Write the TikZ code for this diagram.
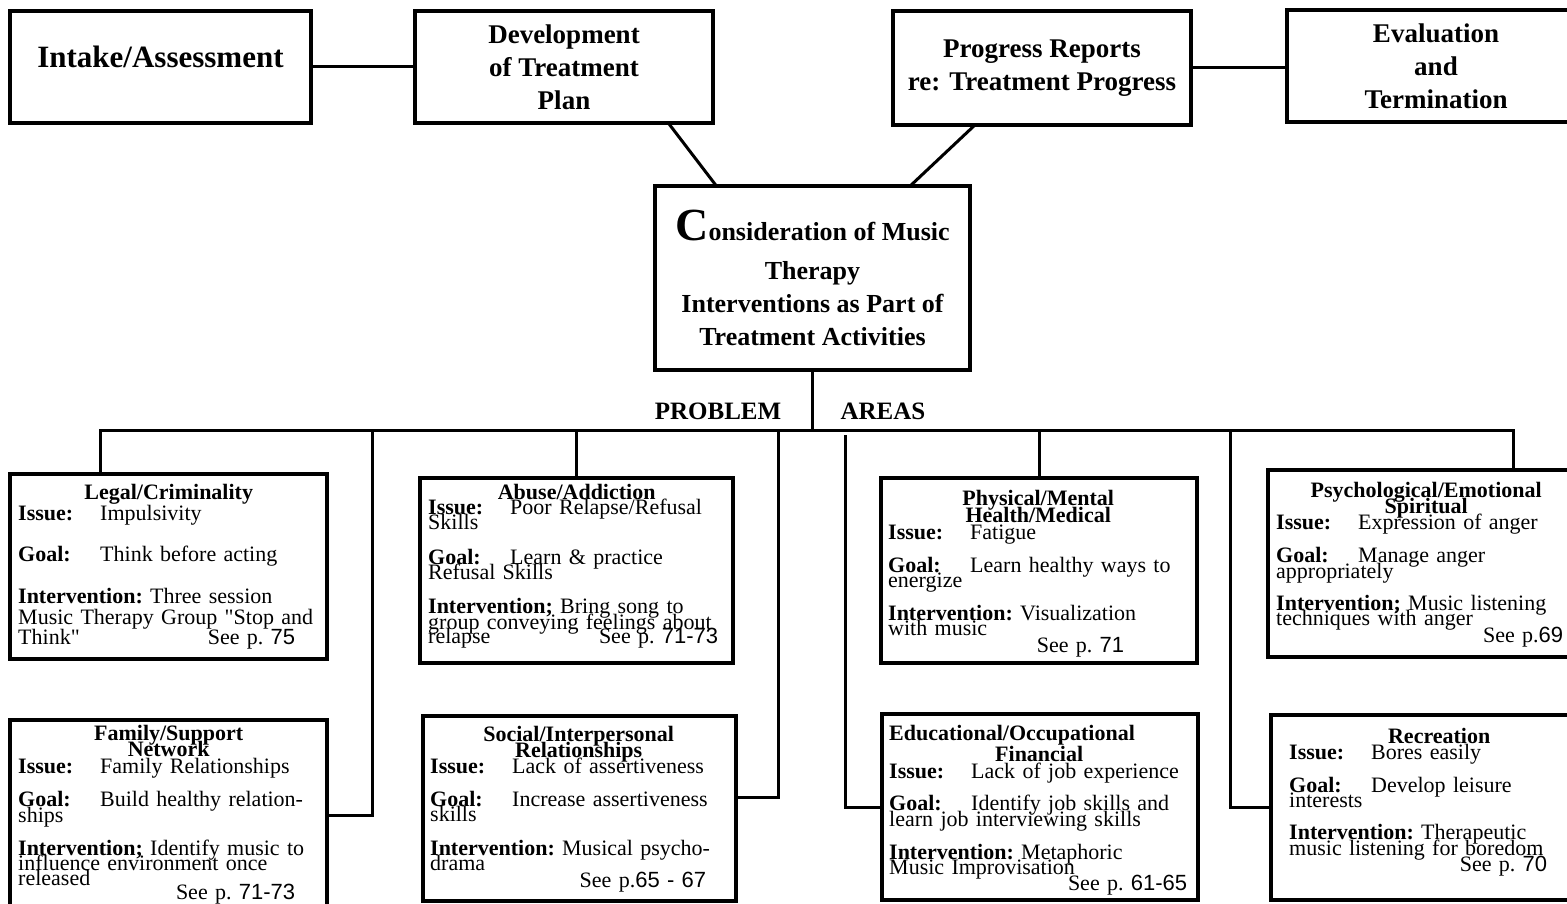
\documentclass[tikz,border=0pt]{standalone}
\usepackage{fontspec}
\setmainfont{Liberation Serif}
\newfontfamily\handfont{Liberation Sans}
\usetikzlibrary{calc,positioning}
\newcommand{\areafont}{\fontsize{22}{16}\selectfont\frenchspacing\lineskiplimit=-100pt\lineskip=0pt\relax}
\newcommand{\lbl}[1]{\makebox[82pt][l]{\bfseries #1}}
\newcommand{\atitle}[1]{\rule{0pt}{16pt}\hspace*{\fill}\textbf{#1}\hspace*{\fill}\null}
\newcommand{\ctitle}[1]{\hspace*{\fill}\textbf{#1}\hspace*{\fill}\null}
\newcommand{\seep}[2]{\hspace*{\fill}#1\hspace*{#2}\null}
\newcommand{\hw}[1]{{\handfont #1}}
\tikzset{
  stage/.style={draw, line width=3.5pt, outer sep=0pt, inner sep=0pt, align=center,
    font=\bfseries\fontsize{27}{33}\selectfont},
  area/.style={draw, line width=3.5pt, outer sep=0pt, inner sep=0pt, anchor=north west,
    minimum width=316pt, minimum height=185pt},
  areatext/.style={anchor=north west, inner sep=0pt, align=left, text width=300pt, font=\areafont},
  link/.style={line width=3pt},
  heading/.style={font=\bfseries\fontsize{25}{25}\selectfont, inner sep=0pt},
}
\begin{document}
\begin{tikzpicture}[x=1pt, y=-1pt]
\useasboundingbox (0,0) rectangle (1567,904);
% ---------- stages of treatment ----------
\node[stage, minimum width=301pt, minimum height=112pt, font=\bfseries\fontsize{31}{33}\selectfont]
  (intake) at (160.5,67) {Intake/Assessment\\[-12pt]\mbox{}};
\node[stage, minimum width=298pt, minimum height=112pt] (devplan) at (564,67) {Development\\of Treatment\\Plan};
\node[stage, minimum width=298pt, minimum height=114pt] (progress) at (1042,68) {Progress Reports\\re: Treatment Progress};
\node[stage, minimum width=298pt, minimum height=112pt] (evaluation) at (1436,66) {Evaluation\\and\\Termination};
\node[stage, minimum width=315pt, minimum height=184pt, font=\bfseries\fontsize{26}{33}\selectfont]
  (consider) at (812.5,278) {{\fontsize{46}{33}\selectfont C}onsideration of Music\\[6pt]Therapy\\Interventions as Part of\\Treatment Activities};
\draw[link] (intake) -- (devplan);
\draw[link] (progress.east) -- (progress.east -| evaluation.west);
\draw[link] ($(devplan.south west)!.85!(devplan.south east)$) -- ($(consider.north west)!.195!(consider.north east)$);
\draw[link] ($(progress.south west)!.275!(progress.south east)$) -- ($(consider.north west)!.81!(consider.north east)$);
% ---------- problem areas ----------
\node[heading] (problem) at (718,411) {PROBLEM};
\node[heading] (areas) at (883,411) {AREAS};
\node[area, minimum width=317pt] (legal) at (10,474) {};
\node[area, minimum width=313pt] (abuse) at (420,478) {};
\node[area] (physical) at (881,478) {};
\node[area, minimum height=187pt] (psych) at (1268,470) {};
\node[area, minimum width=317pt, minimum height=190pt] (family) at (10,720) {};
\node[area, minimum width=313pt] (social) at (423,716) {};
\node[area, minimum height=186pt] (educ) at (882,714) {};
\node[area] (recr) at (1271,715) {};
\coordinate (busL) at (100,430);
\coordinate (busR) at (1513,430);
\coordinate (famdrop) at (372,430);
\coordinate (socdrop) at (778,430);
\coordinate (edudrop) at (845,435);
\coordinate (recdrop) at (1230,430);
\draw[link] (consider.south) -- (consider.south |- busL);
\draw[link] (busL |- legal.north) -- (busL) -- (busR) -- (busR |- psych.north);
\draw[link] (abuse.north |- busL) -- (abuse.north);
\draw[link] (physical.north |- busL) -- (physical.north);
\draw[link] (famdrop) |- (family.east);
\draw[link] (socdrop) |- ($(social.north east)!.44!(social.south east)$);
\draw[link] (edudrop) |- (educ.west);
\draw[link] (recdrop) |- (recr.west);
% ---------- texts of the areas ----------
\node[areatext, text width=301pt] (legaltxt) at ([xshift=8pt,yshift=-9pt]legal.north west) {%
  \atitle{Legal/Criminality}\\[5pt]
  \lbl{Issue:}Impulsivity\\[25pt]
  \lbl{Goal:}Think before acting\\[26pt]
  \textbf{Intervention:} Three session\\[5pt]
  Music Therapy Group \textquotedbl Stop and\\[4pt]
  Think\textquotedbl\seep{See p. \hw{75}}{24pt}};
\node[areatext, text width=297pt] (abusetxt) at ([xshift=8pt,yshift=-5pt]abuse.north west) {%
  \atitle{Abuse/Addiction}\\[-1pt]
  \lbl{Issue:}Poor Relapse/Refusal\\[-1pt]
  Skills\\[19pt]
  \lbl{Goal:}Learn \& practice\\[-1pt]
  Refusal Skills\\[18pt]
  \textbf{Intervention;} Bring song to\\
  group conveying feelings about\\[-2pt]
  relapse\seep{See p. \hw{71-73}}{7pt}};
\node[areatext] (physicaltxt) at ([xshift=7pt,yshift=-11pt]physical.north west) {%
  \atitle{Physical/Mental}\\[1pt]
  \ctitle{Health/Medical}\\[1pt]
  \lbl{Issue:}Fatigue\\[17pt]
  \lbl{Goal:}Learn healthy ways to\\[-1pt]
  energize\\[17pt]
  \textbf{Intervention:} Visualization\\[-1pt]
  with music\\[1pt]
  \seep{See p. \hw{71}}{64pt}};
\node[areatext] (psychtxt) at ([xshift=8pt,yshift=-11pt]psych.north west) {%
  \atitle{Psychological/Emotional}\\
  \ctitle{Spiritual}\\
  \lbl{Issue:}Expression of anger\\[17pt]
  \lbl{Goal:}Manage anger\\
  appropriately\\[16pt]
  \textbf{Intervention;} Music listening\\[-1pt]
  techniques with anger\\[1pt]
  \seep{See p.\hw{69}}{13pt}};
\node[areatext, text width=301pt] (familytxt) at ([xshift=8pt,yshift=-4pt]family.north west) {%
  \atitle{Family/Support}\\
  \ctitle{Network}\\[1pt]
  \lbl{Issue:}Family Relationships\\[17pt]
  \lbl{Goal:}Build healthy relation-\\
  ships\\[17pt]
  \textbf{Intervention;} Identify music to\\[-1pt]
  influence environment once\\[-1pt]
  released\\[-2pt]
  \seep{See p. \hw{71-73}}{24pt}};
\node[areatext, text width=297pt] (socialtxt) at ([xshift=7pt,yshift=-9pt]social.north west) {%
  \atitle{Social/Interpersonal}\\
  \ctitle{Relationships}\\
  \lbl{Issue:}Lack of assertiveness\\[17pt]
  \lbl{Goal:}Increase assertiveness\\[-1pt]
  skills\\[18pt]
  \textbf{Intervention:} Musical psycho-\\[-1pt]
  drama\\[1pt]
  \seep{See p.\hw{65 - 67}}{21pt}};
\node[areatext] (eductxt) at ([xshift=7pt,yshift=-10pt]educ.north west) {%
  \rule{0pt}{16pt}\textbf{Educational/Occupational}\\[5pt]
  \ctitle{Financial}\\[1pt]
  \lbl{Issue:}Lack of job experience\\[16pt]
  \lbl{Goal:}Identify job skills and\\
  learn job interviewing skills\\[17pt]
  \textbf{Intervention:} Metaphoric\\[-1pt]
  Music Improvisation\\
  \seep{See p. \hw{61-65}}{2pt}};
\node[areatext] (recrtxt) at ([xshift=18pt,yshift=-12pt]recr.north west) {%
  \atitle{Recreation}\\
  \lbl{Issue:}Bores easily\\[17pt]
  \lbl{Goal:}Develop leisure\\[-1pt]
  interests\\[16pt]
  \textbf{Intervention:} Therapeutic\\
  music listening for boredom\\
  \seep{See p. \hw{70}}{42pt}};
\end{tikzpicture}
\end{document}
